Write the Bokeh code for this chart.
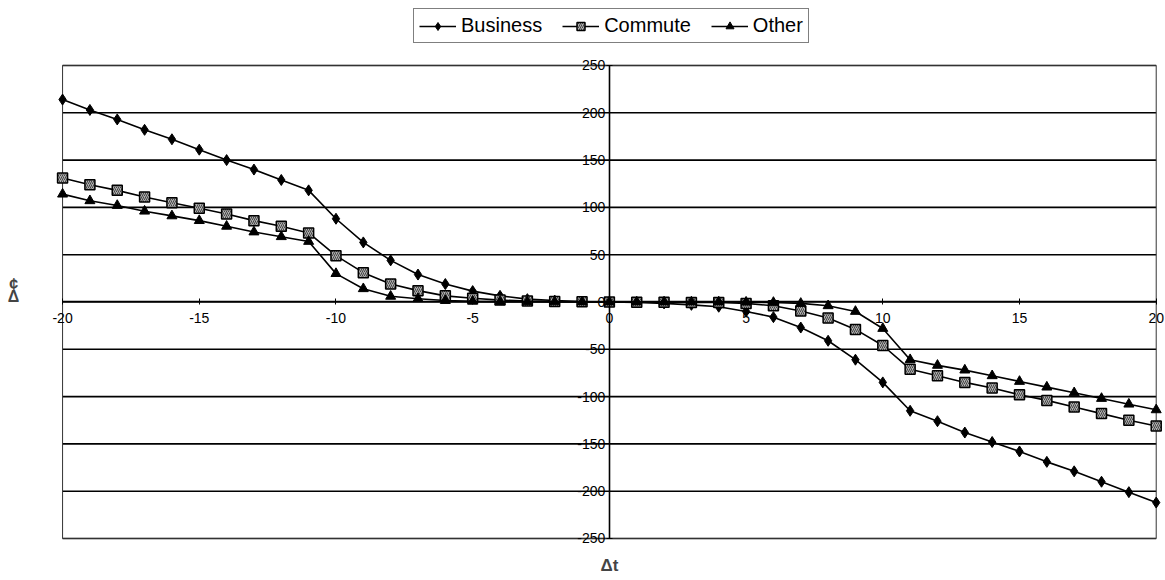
from bokeh.plotting import figure
from bokeh.models import Legend, LegendItem, Label, FixedTicker, Range1d, ColumnDataSource
from bokeh.embed import file_html
from bokeh.resources import INLINE

dt = list(range(-20, 21))

business = [214, 203, 193, 182, 172, 161, 150, 140, 129, 118,
            88, 63, 44, 29, 19, 11.5, 6.5, 3, 1.5, 0.5,
            0,
            -0.5, -1.5, -3, -5, -10, -16, -27, -41, -61,
            -85, -115, -126, -138, -148, -158, -169, -179, -190, -201, -212]
commute = [131, 124, 118, 111, 105, 99, 93, 86, 80, 73,
           49, 31, 19, 12, 6.5, 4, 2, 1, 0.5, 0.2,
           0,
           -0.2, -0.3, -0.5, -0.5, -1.5, -4, -9.5, -17, -29,
           -46, -71, -78, -85, -91, -98, -104, -111, -118, -125, -131]
other = [114, 107, 102, 96, 91, 86, 80, 74, 69, 64,
         30, 14, 6, 3.5, 1.5, 0.7, 0.3, 0.2, 0.1, 0,
         0,
         0, 0, 0, 0, -0.2, -0.5, -1.5, -4, -10,
         -28, -61, -67, -72, -78, -84, -90, -96, -102, -108, -114]

x_ticks = [-20, -15, -10, -5, 0, 5, 10, 15, 20]
y_ticks = [250, 200, 150, 100, 50, 0, -50, -100, -150, -200, -250]

FONT = "Liberation Sans"
W, H = 1165, 580

# frame fills the whole canvas; the -20..20 / -250..250 box is drawn inside it
p = figure(width=W, height=H, output_backend="svg", toolbar_location=None,
           x_range=Range1d(-22.27, 20.34), y_range=Range1d(-294.4, 318.7),
           min_border_left=0, min_border_right=0, min_border_top=0, min_border_bottom=0)
p.background_fill_color = "white"
p.border_fill_color = "white"
p.outline_line_color = None
p.xgrid.grid_line_color = None
p.ygrid.grid_line_color = None

xmin, xmax = x_ticks[0], x_ticks[-1]
ymin, ymax = y_ticks[-1], y_ticks[0]

# horizontal gridlines across the box
p.segment(x0=[xmin] * len(y_ticks), y0=y_ticks, x1=[xmax] * len(y_ticks), y1=y_ticks,
          line_color="black", line_width=1.6)
# box border
p.rect(x=[(xmin + xmax) / 2], y=[(ymin + ymax) / 2], width=[xmax - xmin], height=[ymax - ymin],
       fill_color=None, line_color="#333333", line_width=1)

for ax in p.xaxis + p.yaxis:
    ax.fixed_location = 0
    ax.axis_line_color = "black"
    ax.axis_line_width = 1.6
    ax.major_tick_in = 3
    ax.major_tick_out = 3
    ax.minor_tick_line_color = None
    ax.major_label_text_font = FONT
    ax.major_label_text_font_size = "14px"
    ax.major_label_text_color = "black"

p.xaxis.ticker = FixedTicker(ticks=x_ticks)
p.yaxis.ticker = FixedTicker(ticks=y_ticks)
p.xaxis.bounds = (xmin, xmax)
p.yaxis.bounds = (ymin, ymax)
p.xaxis.major_label_overrides = {t: str(t) for t in x_ticks}
p.yaxis.major_label_overrides = {t: str(t) for t in y_ticks}
p.xaxis.major_label_standoff = 8
p.yaxis.major_label_standoff = 1

src = ColumnDataSource(dict(dt=dt, business=business, commute=commute, other=other))

lb = p.line("dt", "business", source=src, line_color="black", line_width=1.6)
mb = p.scatter("dt", "business", source=src, marker="diamond", size=11,
               fill_color="black", line_color="black")
lc = p.line("dt", "commute", source=src, line_color="black", line_width=1.6)
mc = p.scatter("dt", "commute", source=src, marker="square", size=10,
               fill_color="#b0b0b0", line_color="black", line_width=1.5,
               hatch_pattern="/", hatch_color="#444444", hatch_scale=4)
lo = p.line("dt", "other", source=src, line_color="black", line_width=1.6)
mo = p.scatter("dt", "other", source=src, marker="triangle", size=10,
               fill_color="black", line_color="black")

legend = Legend(items=[
    LegendItem(label="Business", renderers=[lb, mb]),
    LegendItem(label="Commute", renderers=[lc, mc]),
    LegendItem(label="Other", renderers=[lo, mo]),
], orientation="horizontal", location=(413, 537))
legend.label_text_font = FONT
legend.label_text_font_size = "20px"
legend.label_text_color = "black"
legend.border_line_color = "black"
legend.border_line_width = 1.5
legend.padding = 5
legend.spacing = 20
legend.margin = 0
legend.glyph_width = 37
legend.glyph_height = 20
legend.label_standoff = 5
legend.label_height = 21
p.add_layout(legend, "center")

p.add_layout(Label(x=-21.79, y=18.5, text="¢", text_font=FONT, text_font_style="bold",
                   text_font_size="16px", text_align="center", text_baseline="middle"))
p.add_layout(Label(x=-21.79, y=5.8, text="Δ", text_font=FONT, text_font_style="bold",
                   text_font_size="16px", text_align="center", text_baseline="middle"))
p.add_layout(Label(x=0, y=-278.5, text="Δt", text_font=FONT, text_font_style="bold",
                   text_font_size="17px", text_align="center", text_baseline="middle"))

open("out.html", "w").write(file_html(p, INLINE))
